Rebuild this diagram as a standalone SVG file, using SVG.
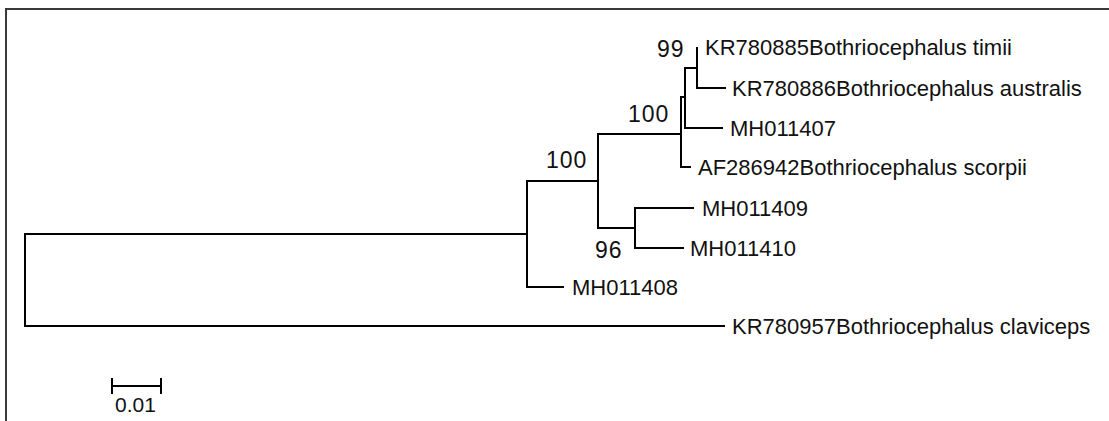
<svg xmlns="http://www.w3.org/2000/svg" width="1109" height="421" viewBox="0 0 1109 421">
<style>
.frame{fill:none;stroke:#3a3a3a;stroke-width:2}
.br{fill:none;stroke:#000;stroke-width:2;stroke-linecap:square}
.lbl{font-family:"Liberation Sans",Arial,sans-serif;font-size:22px;fill:#111}
.bs{font-family:"Liberation Sans",Arial,sans-serif;font-size:23px;letter-spacing:1px;fill:#111}
</style>
<rect width="1109" height="421" fill="#fff"/>
<path class="frame" d="M6,421 V9 H1109"/>
<g id="connectors">
<path class="br" d="M25,234 V326"/>
<path class="br" d="M25,234 H527"/>
<path class="br" d="M25,326 H724"/>
<path class="br" d="M527,181 V287"/>
<path class="br" d="M527,287 H563"/>
<path class="br" d="M527,181 H598"/>
<path class="br" d="M598,134 V228"/>
<path class="br" d="M598,228 H635"/>
<path class="br" d="M635,208 V248"/>
<path class="br" d="M635,208 H693"/>
<path class="br" d="M635,248 H683"/>
<path class="br" d="M598,134 H681"/>
<path class="br" d="M681,97 V167"/>
<path class="br" d="M681,167 H690"/>
<path class="br" d="M681,97 H685"/>
<path class="br" d="M685,68 V128"/>
<path class="br" d="M685,128 H722"/>
<path class="br" d="M685,68 H697"/>
<path class="br" d="M697,48 V88"/>
<path class="br" d="M697,88 H725"/>
</g>
<g id="n-kr780885"><text class="lbl" x="705" y="55">KR780885Bothriocephalus timii</text></g>
<g id="n-kr780886"><text class="lbl" x="732" y="96">KR780886Bothriocephalus australis</text></g>
<g id="n-mh011407"><text class="lbl" x="730" y="136">MH011407</text></g>
<g id="n-af286942"><text class="lbl" x="698" y="175">AF286942Bothriocephalus scorpii</text></g>
<g id="n-mh011409"><text class="lbl" x="702" y="216">MH011409</text></g>
<g id="n-mh011410"><text class="lbl" x="690" y="256">MH011410</text></g>
<g id="n-mh011408"><text class="lbl" x="572" y="295">MH011408</text></g>
<g id="n-kr780957"><text class="lbl" x="732" y="334">KR780957Bothriocephalus claviceps</text></g>
<g id="bootstrap">
<text class="bs" x="657" y="57">99</text>
<text class="bs" x="628" y="122">100</text>
<text class="bs" x="546" y="168">100</text>
<text class="bs" x="595" y="258">96</text>
</g>
<g id="scale">
<path class="br" d="M112,386 H161 M112,379 V393 M161,379 V393"/>
<text class="lbl" x="115" y="412" style="font-size:21px">0.01</text>
</g>
</svg>
